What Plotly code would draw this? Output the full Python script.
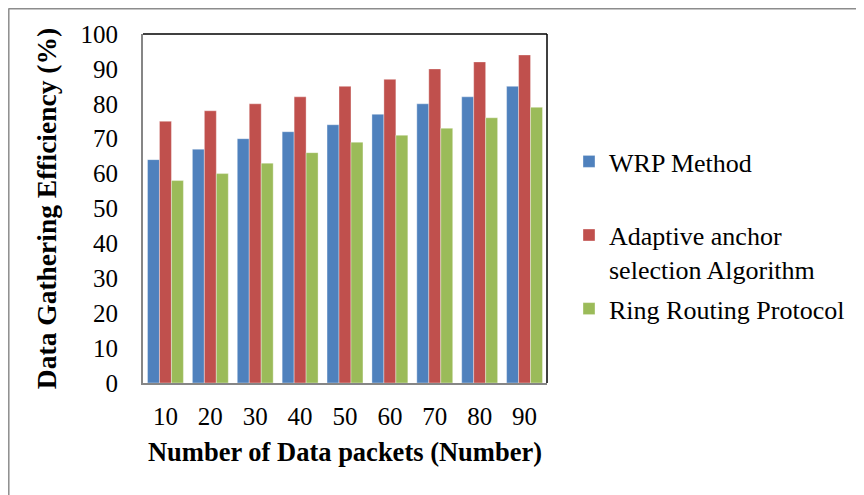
import plotly.graph_objects as go

categories = ["10", "20", "30", "40", "50", "60", "70", "80", "90"]
wrp = [64, 67, 70, 72, 74, 77, 80, 82, 85]
adaptive = [75, 78, 80, 82, 85, 87, 90, 92, 94]
ring = [58, 60, 63, 66, 69, 71, 73, 76, 79]
y_ticks = [0, 10, 20, 30, 40, 50, 60, 70, 80, 90, 100]

FONT = "Liberation Serif, Times New Roman, serif"

fig = go.Figure()
fig.add_bar(x=categories, y=wrp, name="WRP Method<br> ",
            marker=dict(color="#4F81BD", line=dict(color="rgba(255,255,255,0.45)", width=0.8)),
            legendgroup="a")
fig.add_bar(x=categories, y=adaptive, name="Adaptive anchor<br>selection Algorithm",
            marker=dict(color="#C0504D", line=dict(color="rgba(255,255,255,0.45)", width=0.8)),
            legendgroup="b")
fig.add_bar(x=categories, y=ring, name="Ring Routing Protocol",
            marker=dict(color="#9BBB59", line=dict(color="rgba(255,255,255,0.45)", width=0.8)),
            legendgroup="c")

# page body has an 8px margin, so figure coordinates are page coordinates minus 8
OFF = 8
W, H = 864 - OFF, 495 - OFF
L, R, T, B = 143 - OFF, 864 - 547, 34 - OFF, 495 - 383
pw, ph = W - L - R, H - T - B

def px_x(x):
    return (x - OFF - L) / pw

def px_y(y):
    return (H - B - (y - OFF)) / ph

fig.update_layout(
    width=W, height=H,
    margin=dict(l=L, r=R, t=T, b=B, pad=0, autoexpand=False),
    paper_bgcolor="white", plot_bgcolor="white",
    barmode="group", bargap=0.2, bargroupgap=0,
    font=dict(family=FONT, color="black", size=25),
    showlegend=True,
    legend=dict(x=px_x(569), xanchor="left", y=px_y(138), yanchor="top",
                font=dict(family=FONT, size=26, color="black"),
                valign="top", tracegroupgap=3, bgcolor="rgba(0,0,0,0)",
                itemclick=False),
    xaxis=dict(showline=True, linecolor="#868686", linewidth=2, ticks="",
               showgrid=False, ticklabelstandoff=10,
               tickfont=dict(size=25),
               title=dict(text="<b>Number of Data packets (Number)</b>",
                          font=dict(size=26.5), standoff=13)),
    yaxis=dict(range=[0, 100], tickvals=y_ticks, showline=True, linecolor="#868686",
               linewidth=2, ticks="", showgrid=False, zeroline=False,
               ticklabelstandoff=18, tickfont=dict(size=25),
               title=dict(text="<b>Data Gathering Efficiency (%)</b>",
                          font=dict(size=27.5), standoff=16)),
    shapes=[
        dict(type="line", xref="paper", yref="paper", x0=0, x1=1, y0=1, y1=1,
             line=dict(color="black", width=1.5)),
        dict(type="line", xref="paper", yref="paper", x0=1, x1=1, y0=0, y1=1,
             line=dict(color="black", width=1.5)),
        dict(type="line", xref="paper", yref="paper", x0=px_x(8.5), x1=px_x(870),
             y0=px_y(8.8), y1=px_y(8.8), line=dict(color="#8c8c8c", width=1.5)),
        dict(type="line", xref="paper", yref="paper", x0=px_x(8.8), x1=px_x(8.8),
             y0=px_y(8.5), y1=px_y(500), line=dict(color="#8c8c8c", width=1.5)),
    ],
)

fig.write_html("out.html")
